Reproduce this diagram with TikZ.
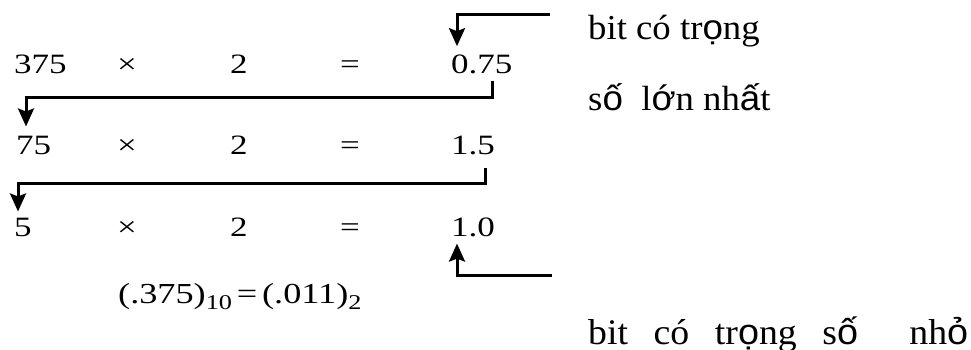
\documentclass[tikz,border=0pt]{standalone}
\usepackage{fontspec}
\setmainfont[FakeStretch=1.25]{Liberation Serif}
\newfontfamily\lblfont[FakeStretch=1.05]{Liberation Serif}
\newfontfamily\arialfb[FakeStretch=1.05]{Liberation Sans}
\usepackage{tikz}
\usetikzlibrary{arrows.meta, calc}
\newcommand{\fb}[1]{{\arialfb #1}}
\newcommand{\sub}[1]{\raisebox{-6pt}{\fontsize{21}{23}\selectfont #1}}

\begin{document}
\begin{tikzpicture}[x=1pt, y=-1pt, every node/.style={inner sep=0pt, anchor=base west, font=\fontsize{28}{33}\selectfont},
  lbl/.style={font=\fontsize{35}{40}\selectfont\lblfont},
  arr/.style={-{Stealth[length=18pt, width=16pt, inset=3pt]}, line width=3pt}]
\useasboundingbox (0,0) rectangle (971,350);
% row 1
\node (a1) at (14,74) {375};
\node (m1) at (117,74) {×};
\node (b1) at (230,74) {2};
\node (e1) at (340,74) {=};
\node (r1) at (451,74) {0.75};
% row 2
\node (a2) at (16,154) {75};
\node (m2) at (117,154) {×};
\node (b2) at (230,154) {2};
\node (e2) at (340,154) {=};
\node (r2) at (451,154) {1.5};
% row 3
\node (a3) at (14,236) {5};
\node (m3) at (117,236) {×};
\node (b3) at (230,236) {2};
\node (e3) at (340,236) {=};
\node (r3) at (451,236) {1.0};
\node[font=\fontsize{29}{33}\selectfont] (res) at (118,303) {(.375)\sub{10}\,=\,(.011)\sub{2}};
% labels
\node[lbl] (msb1) at (588,40) {bit có tr\fb{ọ}ng};
\node[lbl] (msb2) at (588,111) {s\fb{ố}\ \ l\fb{ớ}n nh\fb{ấ}t};
\node[lbl, font=\fontsize{36}{40}\selectfont\lblfont] (lsb) at (588,344) {\makebox[380pt][s]{bit có tr\fb{ọ}ng s\fb{ố}\ \ nh\fb{ỏ}}};
\coordinate (msbend) at (550,15);
\coordinate (lsbend) at (552,275);
% arrows
\draw[arr] (msbend) -| ([xshift=6pt,yshift=9pt]r1.north west);
\draw[arr] ([xshift=41pt,yshift=-6pt]r1.south west) -- ++(0,17) -| ([xshift=10pt,yshift=9pt]a2.north west);
\draw[arr] ([xshift=34pt,yshift=-13pt]r2.south west) -- ++(0,16) -| ([xshift=4pt,yshift=6pt]a3.north west);
\draw[arr] (lsbend) -| ([xshift=6pt,yshift=-7pt]r3.south west);
\end{tikzpicture}
\end{document}
